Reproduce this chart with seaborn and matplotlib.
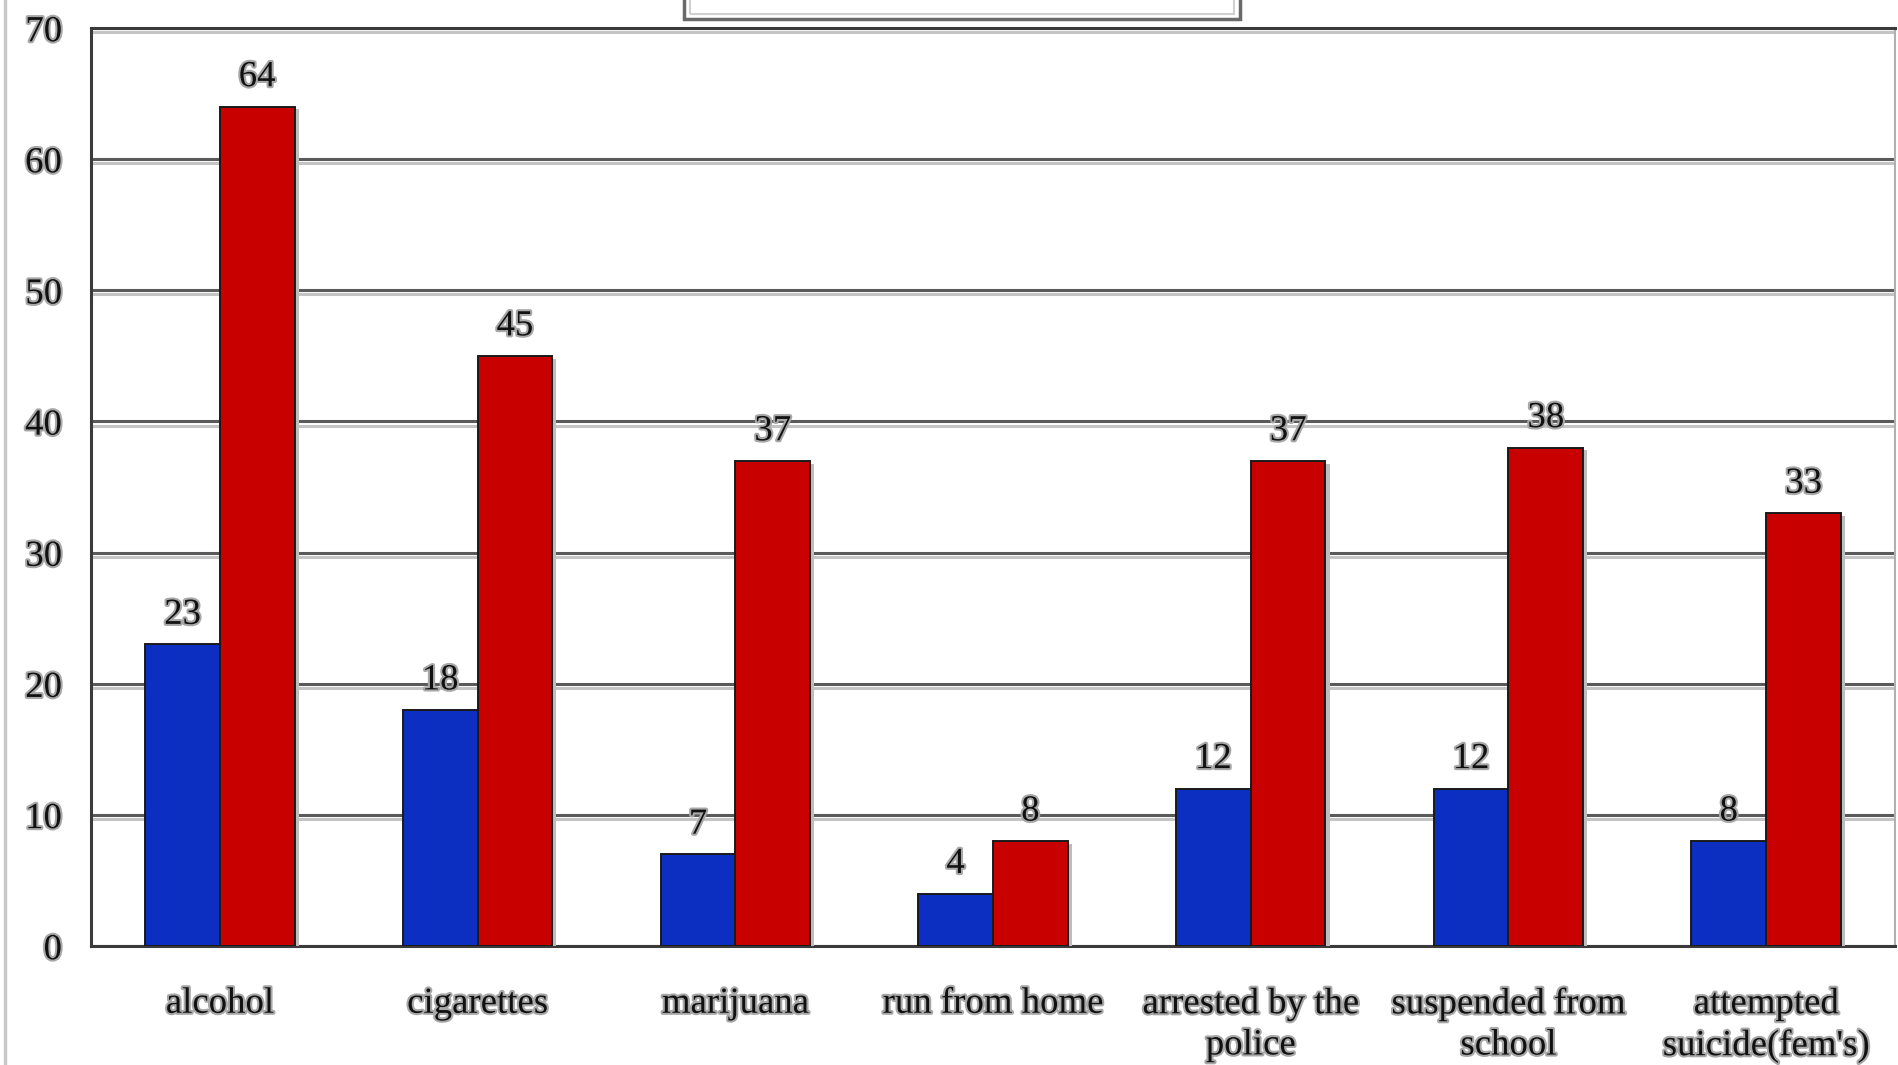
import matplotlib
matplotlib.use("Agg")
import matplotlib.pyplot as plt
import matplotlib.patheffects as pe
from matplotlib.patches import Rectangle
from matplotlib.lines import Line2D
import seaborn as sns
import pandas as pd

categories = ["alcohol", "cigarettes", "marijuana", "run from home",
              "arrested by the\npolice", "suspended from\nschool",
              "attempted\nsuicide(fem's)"]
series_names = ["Series 1", "Series 2"]
blue_values = [23, 18, 7, 4, 12, 12, 8]
red_values = [64, 45, 37, 8, 37, 38, 33]
yticks = [0, 10, 20, 30, 40, 50, 60, 70]

df = pd.DataFrame({
    "category": categories * 2,
    "series": [series_names[0]] * len(categories) + [series_names[1]] * len(categories),
    "value": blue_values + red_values,
})

sns.set_theme(style="white")
plt.rcParams["font.family"] = ["Liberation Serif", "DejaVu Serif"]

W, H = 1899, 1065
fig = plt.figure(figsize=(W / 100, H / 100), dpi=100)
fig.patch.set_facecolor("white")
ax = fig.add_axes([91 / W, 1 - 946 / H, (1895 - 91) / W, (946 - 28) / H])
ax.set_facecolor("white")

sns.barplot(data=df, x="category", y="value", hue="series",
            palette=["#0c2fc2", "#c80000"], width=0.58, dodge=True,
            edgecolor="#1a1a1a", linewidth=1.4, saturation=1, ax=ax,
            legend=False, zorder=3)

shadow = [pe.SimplePatchShadow(offset=(3, -2), shadow_rgbFace="#bdbdbd", alpha=1), pe.Normal()]
for cont in ax.containers:
    for bar in cont:
        bar.set_path_effects(shadow)

FS = 26.5
txt_fx = [pe.withStroke(linewidth=3, foreground="#a8a8a8")]
for cont in ax.containers:
    labels = ax.bar_label(cont, padding=9, fontsize=FS, color="#111111")
    for t in labels:
        t.set_path_effects(txt_fx)

ax.set_ylim(0, 70)
ax.set_xlim(-0.5, len(categories) - 0.5)
ax.set_yticks(yticks)
ax.set_yticklabels([str(v) for v in yticks], fontsize=FS, color="#111111")
for t in ax.get_yticklabels():
    t.set_path_effects(txt_fx)

# category boundaries as major ticks, labels on minor ticks
ax.set_xticks([i - 0.5 for i in range(len(categories) + 1)])
ax.set_xticklabels([])
ax.set_xticks(range(len(categories)), minor=True)
ax.set_xticklabels(categories, minor=True, fontsize=FS, color="#111111",
                   linespacing=1.25)
for t in ax.get_xticklabels(minor=True):
    t.set_path_effects(txt_fx)
ax.tick_params(axis="x", which="major", length=7, width=1.5, color="#444444", direction="out")
ax.tick_params(axis="x", which="minor", length=0, pad=29)
ax.tick_params(axis="y", length=6, width=1.5, color="#444444", direction="out", pad=15)
ax.set_xlabel("")
ax.set_ylabel("")

ax.yaxis.grid(True, color="#5a5a5a", linewidth=2.2)
ax.set_axisbelow(True)
for gl in ax.yaxis.get_gridlines():
    gl.set_path_effects([pe.SimpleLineShadow(offset=(0, -3), shadow_color="#c4c4c4", alpha=1), pe.Normal()])

for side in ["left", "bottom", "top"]:
    ax.spines[side].set_color("#3a3a3a")
    ax.spines[side].set_linewidth(2.2)
ax.spines["right"].set_color("#b0b0b0")
ax.spines["right"].set_linewidth(1.5)

# outer chart frame at left and clipped title box at top
fig.add_artist(Line2D([5 / W, 5 / W], [0, 1], color="#c8c8c8", linewidth=2.5,
                      transform=fig.transFigure))
fig.add_artist(Rectangle((684 / W, 1 - 19 / H), (1240 - 684) / W, 40 / H,
                         transform=fig.transFigure, facecolor="white",
                         edgecolor="#6a6a6a", linewidth=2.5))
fig.add_artist(Rectangle((690 / W, 1 - 14 / H), (1234 - 690) / W, 40 / H,
                         transform=fig.transFigure, facecolor="none",
                         edgecolor="#d0d0d0", linewidth=1.5))

fig.savefig("out.png", dpi=100, facecolor="white")
